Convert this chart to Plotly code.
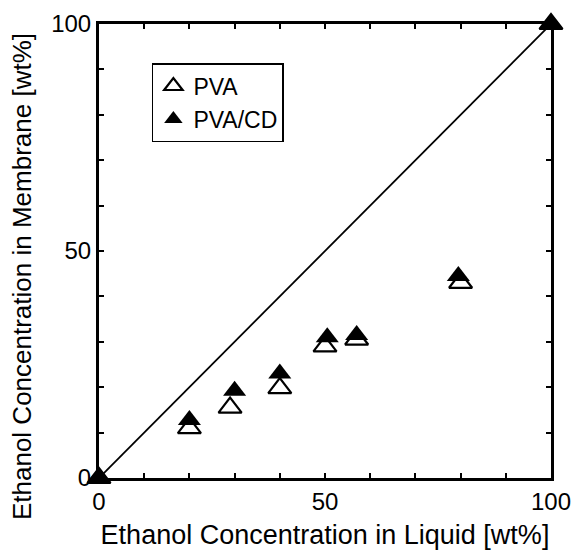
import plotly.graph_objects as go

# Ethanol concentration in the feed liquid [wt%]
pva_liquid = [0, 20, 29, 40, 50, 57, 80, 100]
# Ethanol concentration in the PVA membrane [wt%]
pva_membrane = [0, 11, 15.5, 19.8, 29, 30.5, 43, 100]

pva_cd_liquid = [0, 20, 30, 40, 50.5, 57, 79.5, 100]
pva_cd_membrane = [0, 12.8, 19.2, 23, 31, 31.5, 44.5, 100]

diag = [0, 100]
tick_vals = list(range(0, 101, 10))
tick_text = ["0" if v == 0 else "50" if v == 50 else "100" if v == 100 else "" for v in tick_vals]

FONT = "Liberation Sans, Arial, Helvetica, sans-serif"

fig = go.Figure()

# y = x reference line
fig.add_trace(go.Scatter(
    x=diag, y=diag, mode="lines",
    line=dict(color="black", width=1.8),
    showlegend=False, hoverinfo="skip",
))

fig.add_trace(go.Scatter(
    x=pva_liquid, y=pva_membrane, mode="markers", name="PVA",
    marker=dict(symbol="triangle-up-open", size=20, color="black",
                line=dict(color="black", width=2.2)),
    cliponaxis=False,
))

fig.add_trace(go.Scatter(
    x=pva_cd_liquid, y=pva_cd_membrane, mode="markers", name="PVA/CD",
    marker=dict(symbol="triangle-up", size=20, color="black",
                line=dict(color="black", width=0)),
    cliponaxis=False,
))

axis_common = dict(
    range=[0, 100],
    tickvals=tick_vals,
    ticktext=tick_text,
    ticks="inside",
    ticklen=5,
    tickwidth=1.5,
    tickcolor="black",
    showline=True,
    linecolor="black",
    linewidth=3,
    mirror="ticks",
    showgrid=False,
    zeroline=False,
    automargin=False,
    tickfont=dict(family=FONT, size=24, color="black"),
)

fig.update_layout(
    width=574, height=552,
    margin=dict(l=99, r=23, t=24, b=74),
    paper_bgcolor="white",
    plot_bgcolor="white",
    font=dict(family=FONT, color="black"),
    xaxis=dict(
        **axis_common,
        title=dict(text="Ethanol Concentration in Liquid [wt%]",
                   font=dict(family=FONT, size=27, color="black"),
                   standoff=12),
    ),
    yaxis=dict(**axis_common),
    legend=dict(
        x=0.117, y=0.914, xanchor="left", yanchor="top",
        bgcolor="white",
        bordercolor="black", borderwidth=1.5,
        font=dict(family=FONT, size=23, color="black"),
        tracegroupgap=0,
    ),
    annotations=[dict(
        text="Ethanol Concentration in Membrane [wt%]",
        textangle=-90,
        xref="paper", yref="paper",
        x=-0.17, y=0.443,
        xanchor="center", yanchor="middle",
        showarrow=False,
        font=dict(family=FONT, size=26, color="black"),
    )],
)

fig.write_html("out.html")
